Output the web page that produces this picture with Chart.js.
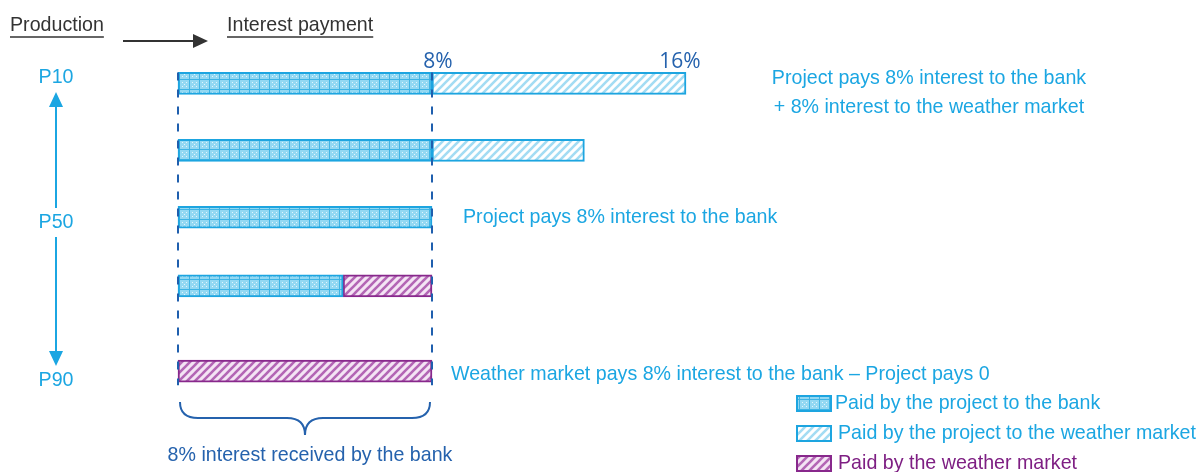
<!DOCTYPE html>
<html>
<head>
<meta charset="utf-8">
<script src="https://cdn.jsdelivr.net/npm/chart.js@4/dist/chart.umd.min.js"></script>
<style>
  html, body { margin: 0; padding: 0; background: #fff; }
  #wrap { width: 1198px; height: 472px; position: relative; }
</style>
</head>
<body>
<div id="wrap"><canvas id="chart"></canvas></div>
<script>
// rows from top (high production, P10) to bottom (low production, P90)
const rowLevel = [10, 30, 50, 70.5, 96];
const productionTicks = ['P10', 'P50', 'P90'];

// interest segments in % per row, [start, end] or null
const bankPaid = [[0, 8], [0, 8], [0, 8], [0, 5.2], null];
const projectToWeather = [[8, 16], [8, 12.8], null, null, null];
const weatherPaid = [null, null, null, [5.2, 8], [0, 8]];

const seriesLabels = [
    'Paid by the project to the bank',
    'Paid by the project to the weather market',
    'Paid by the weather market'
];
const rateTicks = [8, 16];
const rowNotes = [
    ['Project pays 8% interest to the bank', '+ 8% interest to the weather market'],
    null,
    ['Project pays 8% interest to the bank'],
    null,
    ['Weather market pays 8% interest to the bank \u2013 Project pays 0']
];
const bankNote = '8% interest received by the bank';

const CYAN = '#1ba6e2';
const DARKBLUE = '#2562ad';
const PURPLE = '#7e1f83';
const SQUEEZE = 0.935;   // narrow look from Liberation Sans

// draws text with Liberation Sans squeezed horizontally
function narrowText(ctx, text, x, y, align, size) {
    ctx.save();
    ctx.font = (size || 21) + "px 'Liberation Sans', Arial, sans-serif";
    ctx.textBaseline = 'middle';
    ctx.textAlign = 'left';
    const w = ctx.measureText(text).width * SQUEEZE;
    let sx = x;
    if (align === 'center') sx = x - w / 2;
    if (align === 'right') sx = x - w;
    ctx.translate(sx, y);
    ctx.scale(SQUEEZE, 1);
    ctx.fillText(text, 0, 0);
    ctx.restore();
    return w;
}

function makePattern(kind) {
    const c = document.createElement('canvas');
    const g = c.getContext('2d');
    if (kind === 'grid') {
        c.width = 10; c.height = 10;
        g.fillStyle = '#93d8f2';
        g.fillRect(0, 0, 10, 10);
        g.fillStyle = 'rgba(255,255,255,0.75)';
        [[2, 2], [6, 6], [2, 6], [6, 2], [4, 4]].forEach(([x, y]) => g.fillRect(x, y, 1, 1));
        g.fillStyle = '#3fb4e5';
        g.fillRect(9, 0, 1, 10);
        g.fillRect(0, 9, 10, 1);
    } else {
        const bg = kind === 'purple' ? '#f4e4f4' : '#ffffff';
        const fg = kind === 'purple' ? '#b366b5' : '#a3dcf3';
        c.width = 8; c.height = 8;
        g.fillStyle = bg;
        g.fillRect(0, 0, 8, 8);
        g.strokeStyle = fg;
        g.lineWidth = 2.6;
        [[-8, 8, 8, -8], [0, 8, 8, 0], [0, 16, 16, 0]].forEach(([a, b, d, e]) => {
            g.beginPath(); g.moveTo(a, b); g.lineTo(d, e); g.stroke();
        });
    }
    return g.createPattern(c, 'repeat');
}

function toPoints(segments) {
    return segments
        .map((seg, i) => seg ? { x: seg, y: rowLevel[i] } : null)
        .filter(p => p);
}

const styles = [
    { bg: makePattern('grid'), border: '#1da5e0' },
    { bg: makePattern('blue'), border: '#1da5e0' },
    { bg: makePattern('purple'), border: '#88288c' }
];

const datasets = [bankPaid, projectToWeather, weatherPaid].map((seg, i) => ({
    label: seriesLabels[i],
    data: toPoints(seg),
    backgroundColor: styles[i].bg,
    borderColor: styles[i].border,
    borderWidth: 2,
    borderSkipped: false,
    barThickness: 22,
    grouped: false,
    clip: false
}));

const decorations = {
    id: 'decorations',
    afterDatasetsDraw(chart) {
        const { ctx, scales: { x, y } } = chart;
        const top = y.getPixelForValue(rowLevel[0]) - 11;
        const bottom = y.getPixelForValue(rowLevel[rowLevel.length - 1]) + 14;

        ctx.save();
        // dashed guides at 0% and 8%
        ctx.strokeStyle = '#1f5fae';
        ctx.lineWidth = 2;
        ctx.setLineDash([8, 9]);
        [0, 8].forEach(v => {
            const px = Math.round(x.getPixelForValue(v));
            ctx.beginPath(); ctx.moveTo(px, top); ctx.lineTo(px, bottom); ctx.stroke();
        });
        ctx.setLineDash([]);

        // rate ticks above first bar
        ctx.fillStyle = DARKBLUE;
        ctx.font = "21px 'Open Sans', 'Noto Sans', sans-serif";
        ctx.textAlign = 'center';
        ctx.textBaseline = 'alphabetic';
        rateTicks.forEach(v => {
            ctx.fillText(v + '%', x.getPixelForValue(v) + (v === 16 ? -6 : 6), top - 4);
        });

        // notes next to rows
        ctx.fillStyle = CYAN;
        rowNotes.forEach((lines, i) => {
            if (!lines) return;
            const cy = y.getPixelForValue(rowLevel[i]);
            if (lines.length > 1) {
                lines.forEach((t, k) => narrowText(ctx, t, 929, cy - 5 + k * 29, 'center'));
            } else {
                const end = bankPaid[i] || weatherPaid[i];
                narrowText(ctx, lines[0], x.getPixelForValue(end[1]) + (i === 4 ? 19 : 31), cy + (i === 4 ? 3 : 0), 'left');
            }
        });

        // brace under the bars
        const x0 = x.getPixelForValue(0) + 2, x1 = x.getPixelForValue(8) - 2;
        const mid = (x0 + x1) / 2;
        const by = 402;
        ctx.strokeStyle = DARKBLUE;
        ctx.lineWidth = 2;
        ctx.beginPath();
        ctx.moveTo(x0, by);
        ctx.quadraticCurveTo(x0, by + 16, x0 + 18, by + 16);
        ctx.lineTo(mid - 18, by + 16);
        ctx.quadraticCurveTo(mid, by + 16, mid, by + 33);
        ctx.quadraticCurveTo(mid, by + 16, mid + 18, by + 16);
        ctx.lineTo(x1 - 18, by + 16);
        ctx.quadraticCurveTo(x1, by + 16, x1, by);
        ctx.stroke();
        ctx.fillStyle = DARKBLUE;
        narrowText(ctx, bankNote, mid + 5, 455, 'center');

        // header
        ctx.fillStyle = '#333333';
        ctx.strokeStyle = '#333333';
        [['Production', 10], ['Interest payment', 227]].forEach(([t, tx]) => {
            const w = narrowText(ctx, t, tx, 25, 'left');
            ctx.lineWidth = 1.5;
            ctx.beginPath(); ctx.moveTo(tx, 37); ctx.lineTo(tx + w, 37); ctx.stroke();
        });
        ctx.lineWidth = 2;
        ctx.beginPath(); ctx.moveTo(123, 41); ctx.lineTo(196, 41); ctx.stroke();
        ctx.beginPath(); ctx.moveTo(208, 41); ctx.lineTo(193, 34); ctx.lineTo(193, 48); ctx.closePath(); ctx.fill();

        // production axis on the left
        const ax = 56;
        ctx.fillStyle = CYAN;
        ctx.strokeStyle = CYAN;
        [77, 222, 380].forEach((ty, k) => narrowText(ctx, productionTicks[k], ax, ty, 'center'));
        ctx.lineWidth = 2;
        ctx.beginPath(); ctx.moveTo(ax, 104); ctx.lineTo(ax, 208); ctx.stroke();
        ctx.beginPath(); ctx.moveTo(ax, 237); ctx.lineTo(ax, 354); ctx.stroke();
        ctx.beginPath(); ctx.moveTo(ax, 92); ctx.lineTo(ax - 7, 107); ctx.lineTo(ax + 7, 107); ctx.closePath(); ctx.fill();
        ctx.beginPath(); ctx.moveTo(ax, 366); ctx.lineTo(ax - 7, 351); ctx.lineTo(ax + 7, 351); ctx.closePath(); ctx.fill();

        // legend
        const legendColors = [CYAN, CYAN, PURPLE];
        [403, 433, 463].forEach((ly, i) => {
            ctx.fillStyle = styles[i].bg;
            ctx.fillRect(796, ly - 8, 36, 17);
            ctx.strokeStyle = styles[i].border;
            ctx.lineWidth = 2;
            ctx.strokeRect(797, ly - 7, 34, 15);
            ctx.fillStyle = legendColors[i];
            narrowText(ctx, seriesLabels[i], i === 0 ? 835 : 838, ly, 'left');
        });
        ctx.restore();
    }
};

new Chart(document.getElementById('chart'), {
    type: 'bar',
    data: { datasets },
    options: {
        indexAxis: 'y',
        responsive: true,
        maintainAspectRatio: false,
        animation: false,
        layout: { padding: { left: 178, right: 512, top: 50, bottom: 54 } },
        scales: {
            x: { type: 'linear', min: 0, max: 16, offset: false, display: false },
            y: { type: 'linear', min: 0, max: 110, offset: false, reverse: true, display: false }
        },
        plugins: {
            legend: { display: false },
            tooltip: { enabled: false }
        }
    },
    plugins: [decorations]
});
</script>
</body>
</html>
